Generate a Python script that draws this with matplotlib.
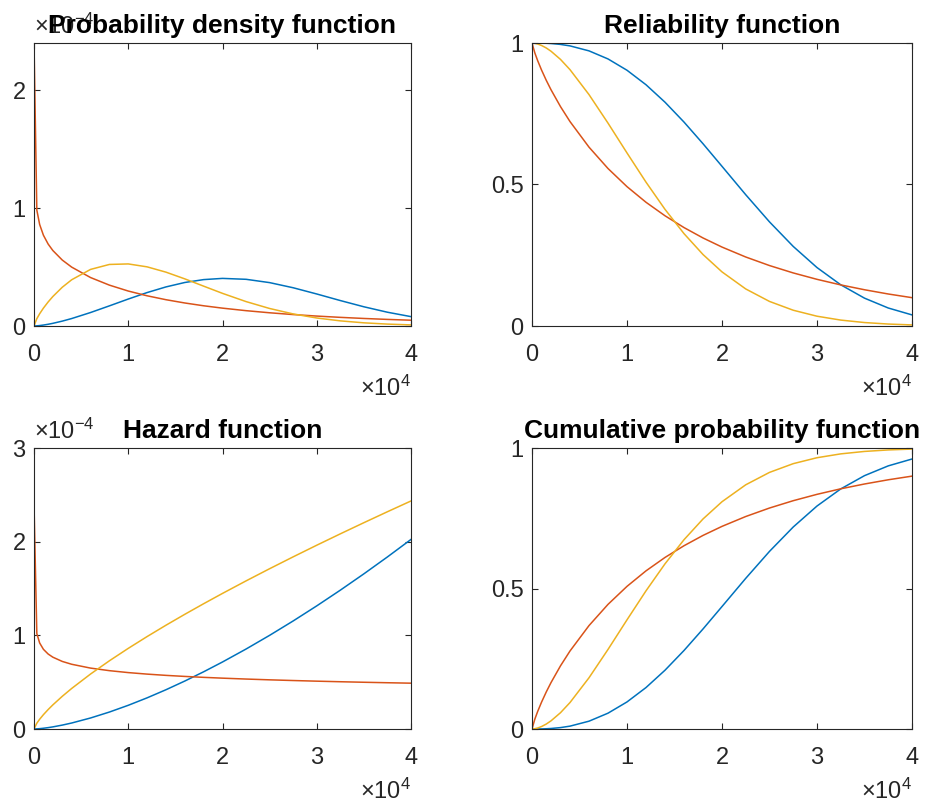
import matplotlib
matplotlib.use("Agg")
import matplotlib.pyplot as plt

plt.rcParams['font.family'] = ['Liberation Sans', 'DejaVu Sans']
plt.rcParams['mathtext.fontset'] = 'custom'
plt.rcParams['mathtext.rm'] = 'Liberation Sans'
plt.rcParams['mathtext.it'] = 'Liberation Sans:italic'

# time axis, in units of 1e4
time = [0.0001, 0.03, 0.06, 0.1, 0.15, 0.2, 0.3, 0.4, 0.6, 0.8, 1.0, 1.2, 1.4, 1.6,
        1.8, 2.0, 2.25, 2.5, 2.75, 3.0, 3.25, 3.5, 3.75, 4.0]

# probability density, in units of 1e-4
pdf_blue = [0.0, 0.0013, 0.0037, 0.008, 0.0147, 0.0226, 0.0414, 0.0633, 0.1143, 0.1708,
            0.2286, 0.2835, 0.3314, 0.3690, 0.3935, 0.4037, 0.3960, 0.3679, 0.3243, 0.2715,
            0.2158, 0.1630, 0.1168, 0.0794]
pdf_red = [2.397, 0.9831, 0.8608, 0.7697, 0.6950, 0.6401, 0.5592, 0.4992, 0.4109, 0.3466,
           0.2965, 0.2562, 0.2230, 0.1952, 0.1715, 0.1514, 0.1300, 0.1121, 0.0970, 0.0842,
           0.0733, 0.0639, 0.0559, 0.0490]
pdf_yellow = [0.0009, 0.0620, 0.1039, 0.1518, 0.2038, 0.2500, 0.3287, 0.3922, 0.4799, 0.5220,
              0.5264, 0.5016, 0.4567, 0.3997, 0.3379, 0.2768, 0.2070, 0.1485, 0.1024, 0.0679,
              0.0435, 0.0269, 0.0161, 0.0093]

# reliability
rel_blue = [1.0, 1.0, 0.9999, 0.9997, 0.9991, 0.9982, 0.9950, 0.9898, 0.9722, 0.9437,
            0.9037, 0.8525, 0.7908, 0.7206, 0.6441, 0.5642, 0.4638, 0.3679, 0.2811, 0.2065,
            0.1456, 0.0984, 0.0636, 0.0392]
rel_red = [0.9997, 0.9647, 0.9373, 0.9048, 0.8682, 0.8349, 0.7752, 0.7224, 0.6320, 0.5565,
           0.4924, 0.4372, 0.3895, 0.3478, 0.3111, 0.2789, 0.2438, 0.2136, 0.1875, 0.1649,
           0.1452, 0.1281, 0.1131, 0.1001]
rel_yellow = [1.0, 0.9989, 0.9964, 0.9913, 0.9824, 0.9710, 0.9420, 0.9058, 0.8177, 0.7169,
              0.6115, 0.5083, 0.4122, 0.3264, 0.2526, 0.1912, 0.1309, 0.0868, 0.0557, 0.0346,
              0.0209, 0.0122, 0.0069, 0.0038]

# hazard rate, in units of 1e-4
haz_blue = [0.0, 0.0013, 0.0037, 0.008, 0.0147, 0.0226, 0.0416, 0.064, 0.1176, 0.1810,
            0.2530, 0.3326, 0.4191, 0.512, 0.6109, 0.7155, 0.8538, 1.0, 1.1537, 1.3145,
            1.4822, 1.6565, 1.8371, 2.0239]
haz_red = [2.398, 1.0191, 0.9184, 0.8507, 0.8005, 0.7667, 0.7214, 0.6910, 0.6502, 0.6228,
           0.6022, 0.5860, 0.5726, 0.5613, 0.5514, 0.5428, 0.5333, 0.5249, 0.5175, 0.5107,
           0.5046, 0.4990, 0.4939, 0.4892]
haz_yellow = [0.0009, 0.0620, 0.1043, 0.1531, 0.2075, 0.2575, 0.3490, 0.4330, 0.5869, 0.7282,
              0.8608, 0.9869, 1.1079, 1.2245, 1.3376, 1.4476, 1.5813, 1.7113, 1.8381, 1.9621,
              2.0835, 2.2026, 2.3196, 2.4346]

# cumulative probability
cdf_blue = [0.0, 0.0, 0.0001, 0.0003, 0.0009, 0.0018, 0.0050, 0.0102, 0.0278, 0.0563,
            0.0963, 0.1475, 0.2092, 0.2794, 0.3559, 0.4358, 0.5362, 0.6321, 0.7189, 0.7935,
            0.8544, 0.9016, 0.9364, 0.9608]
cdf_red = [0.0003, 0.0353, 0.0627, 0.0952, 0.1318, 0.1651, 0.2248, 0.2776, 0.3680, 0.4435,
           0.5076, 0.5628, 0.6105, 0.6522, 0.6889, 0.7211, 0.7562, 0.7864, 0.8125, 0.8351,
           0.8548, 0.8719, 0.8869, 0.8999]
cdf_yellow = [0.0, 0.0011, 0.0036, 0.0087, 0.0176, 0.0290, 0.0580, 0.0942, 0.1823, 0.2831,
              0.3885, 0.4917, 0.5878, 0.6736, 0.7474, 0.8088, 0.8691, 0.9132, 0.9443, 0.9654,
              0.9791, 0.9878, 0.9931, 0.9962]

x_ticks = [0, 1, 2, 3, 4]

blue = '#0072BD'
red = '#D95319'
yellow = '#EDB120'
axis_col = '#262626'
fs = 17

fig = plt.figure(figsize=(9.25, 8.05), dpi=100)

panels = [
    ([34/925, 479/805, 377/925, 283/805], 'Probability density function',
     (pdf_blue, pdf_red, pdf_yellow), (0, 2.4), [0, 1, 2], True),
    ([532/925, 479/805, 380/925, 283/805], 'Reliability function',
     (rel_blue, rel_red, rel_yellow), (0, 1), [0, 0.5, 1], False),
    ([34/925, 76/805, 377/925, 281/805], 'Hazard function',
     (haz_blue, haz_red, haz_yellow), (0, 3), [0, 1, 2, 3], True),
    ([532/925, 76/805, 380/925, 281/805], 'Cumulative probability function',
     (cdf_blue, cdf_red, cdf_yellow), (0, 1), [0, 0.5, 1], False),
]

for pos, title, (yb, yr, yy), ylim, yticks, has_exp in panels:
    ax = fig.add_axes(pos)
    ax.plot(time, yb, color=blue, lw=1.1)
    ax.plot(time, yr, color=red, lw=1.1)
    ax.plot(time, yy, color=yellow, lw=1.1)
    ax.set_xlim(0, 4)
    ax.set_ylim(*ylim)
    ax.set_xticks(x_ticks)
    ax.set_yticks(yticks)
    ax.set_xticklabels([str(t) for t in x_ticks])
    ax.set_yticklabels(['%g' % t for t in yticks])
    ax.tick_params(direction='in', length=4, width=0.8, top=True, right=True,
                   labelsize=fs, colors=axis_col)
    ax.tick_params(axis='x', pad=13)
    ax.tick_params(axis='y', pad=6)
    for s in ax.spines.values():
        s.set_color(axis_col)
        s.set_linewidth(0.8)
    ax.set_title(title, fontsize=19, fontweight='bold', pad=7)
    ax.annotate(r'$\times10^{4}$', xy=(1, 0), xycoords='axes fraction',
                xytext=(0, -36), textcoords='offset points',
                ha='right', va='top', fontsize=fs, color=axis_col)
    if has_exp:
        ax.annotate(r'$\times10^{-4}$', xy=(0, 1), xycoords='axes fraction',
                    xytext=(0, 3), textcoords='offset points',
                    ha='left', va='bottom', fontsize=fs, color=axis_col, zorder=0)

fig.savefig('out.png', dpi=100)
